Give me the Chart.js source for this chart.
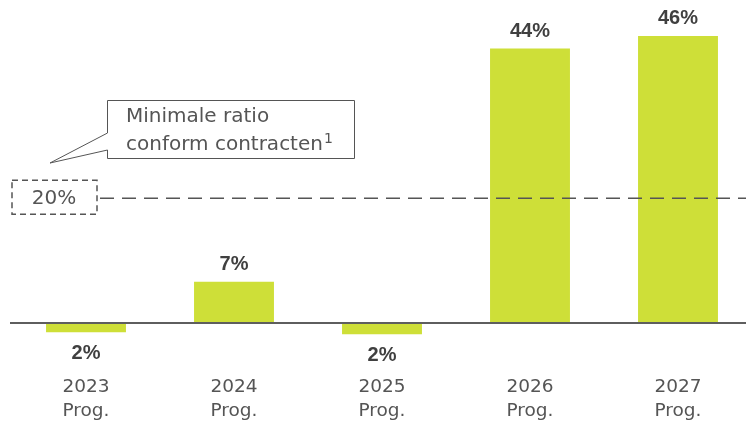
<!DOCTYPE html>
<html>
<head>
<meta charset="utf-8">
<script src="https://cdn.jsdelivr.net/npm/chart.js@4"></script>
<style>
  html, body { margin: 0; padding: 0; background: #fff; overflow: hidden; }
  #wrap { width: 760px; height: 423px; position: relative; }
</style>
</head>
<body>
<div id="wrap"><canvas id="ratioChart"></canvas></div>
<script>
// data
var years = ['2023', '2024', '2025', '2026', '2027'];
var subLabels = ['Prog.', 'Prog.', 'Prog.', 'Prog.', 'Prog.'];
var ratios = [-1.5, 6.6, -1.8, 44, 46];
var minRatio = 20;
var calloutLines = ['Minimale ratio', 'conform contracten'];

var SANS = '"DejaVu Sans", Verdana, sans-serif';
var BOLD = '"Liberation Sans", Arial, sans-serif';

var overlay = {
    id: 'overlay',
    afterDatasetsDraw: function (chart) {
        var c = chart.ctx;
        var y = chart.scales.y;
        var y0 = y.getPixelForValue(0);
        var y20 = y.getPixelForValue(minRatio);
        var meta = chart.getDatasetMeta(0);
        c.save();

        // zero line
        c.strokeStyle = '#5e5e5e';
        c.lineWidth = 2;
        c.beginPath();
        c.moveTo(10, y0);
        c.lineTo(chart.width, y0);
        c.stroke();

        // minimum ratio line
        c.setLineDash([14, 8]);
        c.lineWidth = 1.5;
        c.strokeStyle = '#555';
        c.beginPath();
        c.moveTo(100, y20);
        c.lineTo(chart.width, y20);
        c.stroke();
        // dashed box around the value
        c.setLineDash([6, 4]);
        c.strokeRect(12, y20 - 18, 85, 34);
        c.setLineDash([]);
        c.fillStyle = '#555';
        c.font = '20px ' + SANS;
        c.textAlign = 'center';
        c.textBaseline = 'middle';
        c.fillText(minRatio + '%', 54, y20 + 1);

        // callout
        c.lineWidth = 1;
        c.strokeStyle = '#555';
        c.beginPath();
        c.moveTo(107.5, 133);
        c.lineTo(107.5, 100.5);
        c.lineTo(354.5, 100.5);
        c.lineTo(354.5, 158.5);
        c.lineTo(107.5, 158.5);
        c.lineTo(107.5, 150);
        c.lineTo(50, 163);
        c.lineTo(107.5, 133);
        c.stroke();
        c.textAlign = 'left';
        c.font = '20px ' + SANS;
        c.fillText(calloutLines[0], 126, 117);
        c.fillText(calloutLines[1], 126, 145);
        var w = c.measureText(calloutLines[1]).width;
        c.font = '14px ' + SANS;
        c.fillText('1', 126 + w + 1, 139);

        // value labels and categories
        c.textAlign = 'center';
        meta.data.forEach(function (bar, i) {
            var v = ratios[i];
            c.fillStyle = '#404040';
            c.font = 'bold 20px ' + BOLD;
            var ty = v >= 0 ? bar.y - 17 : bar.y + 21;
            c.fillText(Math.round(Math.abs(v)) + '%', bar.x, ty);
            c.fillStyle = '#555';
            c.font = '18.5px ' + SANS;
            c.fillText(years[i], bar.x, y0 + 64);
            c.fillText(subLabels[i], bar.x, y0 + 88);
        });
        c.restore();
    }
};

var ctx = document.getElementById('ratioChart').getContext('2d');
var ratioChart = new Chart(ctx, {
    type: 'bar',
    data: {
        labels: years,
        datasets: [{
            data: ratios,
            backgroundColor: '#cedf38',
            borderWidth: 0,
            categoryPercentage: 1,
            barPercentage: 0.54
        }]
    },
    options: {
        responsive: true,
        maintainAspectRatio: false,
        animation: false,
        layout: { padding: { left: 12, right: 8, top: 0, bottom: 0 } },
        plugins: { legend: { display: false }, tooltip: { enabled: false } },
        scales: {
            x: { display: false },
            y: { display: false, min: -16.03, max: 51.76 }
        }
    },
    plugins: [overlay]
});
</script>
</body>
</html>
